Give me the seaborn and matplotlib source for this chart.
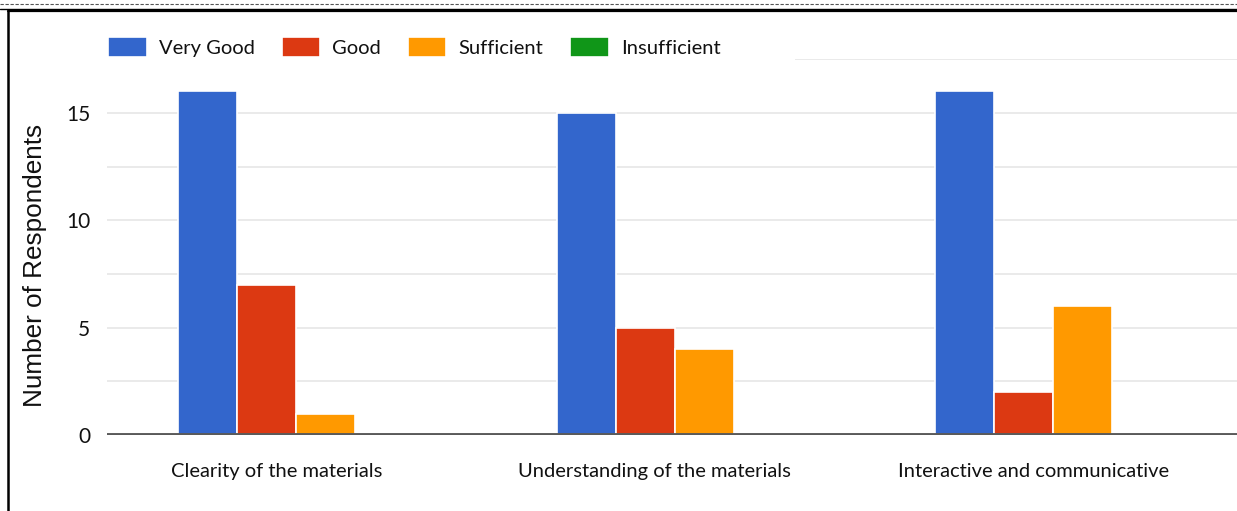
import matplotlib
matplotlib.use("Agg")
import matplotlib.pyplot as plt
import matplotlib.transforms as mtransforms
from matplotlib.lines import Line2D
from matplotlib.patches import Rectangle
import numpy as np
import pandas as pd
import seaborn as sns

# Data
categories = ["Clearity of the materials", "Understanding of the materials", "Interactive and communicative"]
ratings = ["Very Good", "Good", "Sufficient", "Insufficient"]
very_good = [16, 15, 16]
good = [7, 5, 2]
sufficient = [1, 4, 6]
insufficient = [0, 0, 0]
y_ticks = [0, 5, 10, 15]

palette = ["#3366CC", "#DC3912", "#FF9900", "#109618"]
NARROW = ["Lato", "DejaVu Sans"]

df = pd.DataFrame({
    "category": categories * 4,
    "rating": np.repeat(ratings, 3),
    "count": very_good + good + sufficient + insufficient,
})

sns.set_style("white")
plt.rcParams["font.family"] = NARROW

fig = plt.figure(figsize=(12.37, 5.11), dpi=100)
ax = fig.add_axes([0.0865, 0.1487, 0.9135, 0.7353])

sns.barplot(data=df, x="category", y="count", hue="rating", order=categories,
            hue_order=ratings, palette=palette, width=0.624, saturation=1,
            edgecolor="white", linewidth=1.2, legend=True, ax=ax, zorder=3)

handles, labels = ax.get_legend_handles_labels()
ax.get_legend().remove()

ax.set_xlim(-0.5, 2.485)
ax.set_ylim(0, 17.5)
ax.set_yticks(y_ticks)
ax.set_yticks([2.5, 7.5, 12.5, 17.5], minor=True)
ax.grid(axis="y", which="both", color="#e6e6e6", linewidth=1.2, zorder=0)
ax.axhline(0, color="#5a5a5a", linewidth=2.8, zorder=4)
for s in ax.spines.values():
    s.set_visible(False)
ax.tick_params(axis="both", which="both", length=0, labelcolor="#111111")
ax.tick_params(axis="y", labelsize=15, pad=12)
ax.tick_params(axis="x", labelsize=14.5, pad=20)
ax.set_xlabel("")
ax.set_ylabel("Number of Respondents", fontsize=18.8, color="#111111",
              family=["Liberation Sans", "DejaVu Sans"])
ax.yaxis.set_label_coords(-0.053, 0.4525)

# category labels sit slightly left of the group centre in the original
shift = mtransforms.ScaledTranslation(-20 / 100, 0, fig.dpi_scale_trans)
for lbl in ax.get_xticklabels():
    lbl.set_transform(lbl.get_transform() + shift)

# legend area hides the top gridline on the left
ax.add_patch(Rectangle((0, 0.985), 0.609, 0.03, transform=ax.transAxes,
                       facecolor="white", edgecolor="none", zorder=5, clip_on=False))

fig.legend(handles, labels, loc="center left", bbox_to_anchor=(0.073, 0.908), ncol=4,
           frameon=False, fontsize=14.5, handlelength=1.9, handleheight=1.1,
           handletextpad=0.6, columnspacing=1.35, labelcolor="#111111")

# screenshot frame: dashed top rule, double line and left border
fig.add_artist(Line2D([0, 1], [0.992, 0.992], color="#555555", linewidth=0.8,
                      linestyle=(0, (3, 1.5)), transform=fig.transFigure))
fig.add_artist(Line2D([0, 1], [0.983, 0.983], color="black", linewidth=1.0, transform=fig.transFigure))
fig.add_artist(Line2D([0.0065, 1], [0.978, 0.978], color="black", linewidth=1.6, transform=fig.transFigure))
fig.add_artist(Line2D([0.0068, 0.0068], [0, 0.978], color="black", linewidth=1.8, transform=fig.transFigure))

fig.savefig("out.png", dpi=100)
